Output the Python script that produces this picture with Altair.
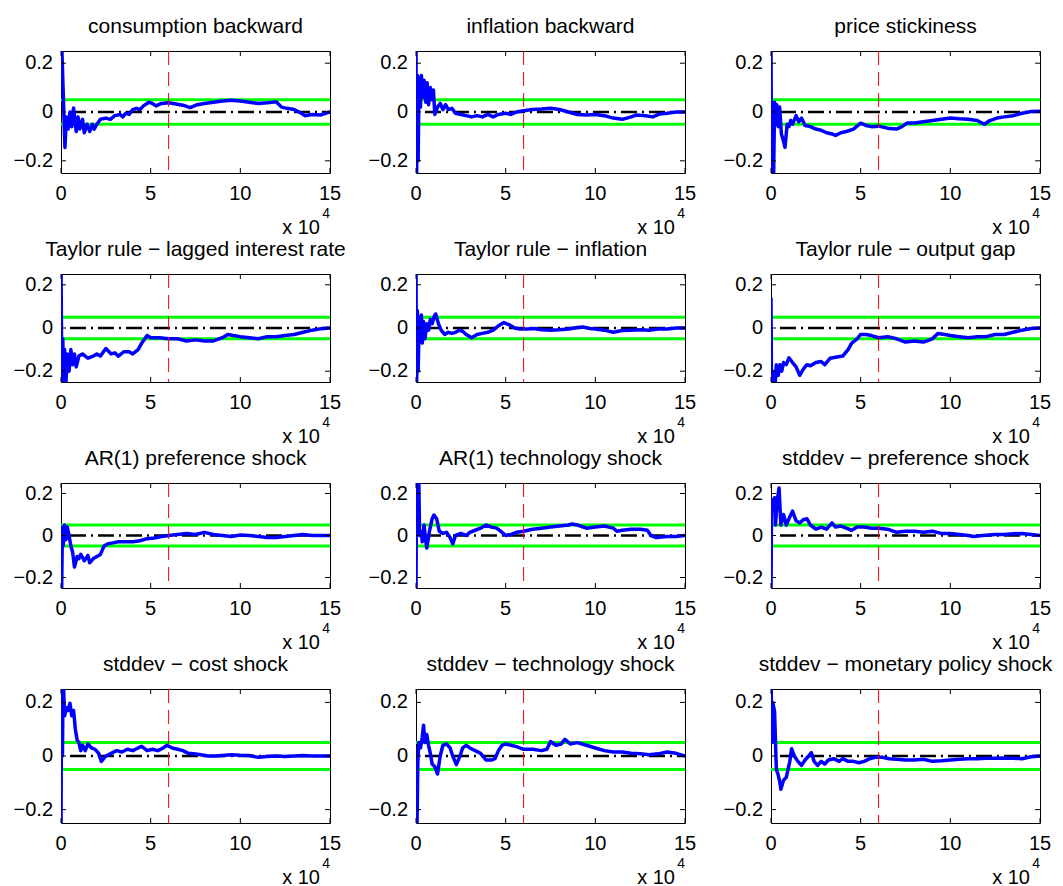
import altair as alt
import pandas as pd

FONT = "Liberation Sans"

TITLES = [
    "consumption backward", "inflation backward", "price stickiness",
    "Taylor rule \u2212 lagged interest rate", "Taylor rule \u2212 inflation", "Taylor rule \u2212 output gap",
    "AR(1) preference shock", "AR(1) technology shock", "stddev \u2212 preference shock",
    "stddev \u2212 cost shock", "stddev \u2212 technology shock", "stddev \u2212 monetary policy shock",
]

# (x in units of 10^4, value)
CONSUMPTION_BACKWARD = [(0, 0.3), (0.05, 0.25), (0.22, -0.145), (0.3, -0.02), (0.4, -0.07), (0.5, 0.0), (0.6, -0.06), (0.7, 0.016), (0.85, -0.08), (0.95, -0.02), (1.05, -0.07), (1.2, -0.03), (1.3, -0.085), (1.45, -0.05), (1.6, -0.08), (1.75, -0.05), (1.85, -0.07), (2.0, -0.05), (2.2, -0.03), (2.5, -0.025), (2.75, -0.03), (3.0, -0.015), (3.3, -0.01), (3.45, -0.02), (3.6, -0.005), (3.8, -0.01), (4.0, 0.01), (4.2, 0.015), (4.4, 0.01), (4.6, 0.025), (4.9, 0.04), (5.1, 0.035), (5.3, 0.025), (5.6, 0.035), (6.0, 0.038), (6.4, 0.033), (6.8, 0.028), (7.2, 0.018), (7.6, 0.03), (8.0, 0.035), (8.5, 0.04), (9.0, 0.045), (9.5, 0.048), (10.0, 0.045), (10.5, 0.04), (11.0, 0.035), (11.5, 0.038), (12.0, 0.042), (12.3, 0.02), (12.6, 0.015), (13.0, 0.01), (13.4, -0.005), (13.6, -0.015), (14.0, -0.01), (14.5, -0.012), (15.0, 0.0)]
INFLATION_BACKWARD = [(0, 0.25), (0.03, -0.3), (0.08, 0.15), (0.12, -0.2), (0.17, 0.14), (0.25, 0.02), (0.3, 0.15), (0.38, 0.06), (0.45, 0.13), (0.55, 0.04), (0.62, 0.12), (0.7, 0.03), (0.8, 0.1), (0.9, 0.05), (0.97, 0.09), (1.05, -0.01), (1.2, 0.02), (1.35, 0.035), (1.5, 0.01), (1.65, 0.03), (1.8, 0.01), (2.0, 0.015), (2.2, -0.005), (2.5, -0.01), (2.8, -0.015), (3.1, -0.02), (3.4, -0.015), (3.7, -0.02), (4.0, -0.01), (4.3, -0.02), (4.6, -0.01), (5.0, -0.005), (5.3, -0.01), (5.6, 0.0), (6.0, 0.005), (6.5, 0.01), (7.0, 0.012), (7.5, 0.015), (8.0, 0.01), (8.5, 0.0), (9.0, -0.01), (9.5, -0.012), (10.0, -0.01), (10.5, -0.015), (11.0, -0.025), (11.5, -0.03), (12.0, -0.02), (12.3, -0.012), (12.8, -0.015), (13.2, -0.02), (13.6, -0.008), (14.0, -0.005), (14.5, 0.0), (15.0, 0.0)]
PRICE_STICKINESS = [(0, 0.3), (0.03, -0.3), (0.1, 0.0), (0.14, -0.3), (0.2, 0.04), (0.27, -0.05), (0.32, 0.03), (0.4, -0.06), (0.48, 0.02), (0.58, -0.09), (0.7, -0.12), (0.78, -0.145), (0.9, -0.05), (1.0, -0.06), (1.1, -0.035), (1.2, -0.05), (1.4, -0.015), (1.55, -0.04), (1.7, -0.025), (1.9, -0.055), (2.2, -0.06), (2.5, -0.07), (2.8, -0.075), (3.1, -0.085), (3.4, -0.09), (3.6, -0.096), (3.9, -0.085), (4.2, -0.08), (4.6, -0.07), (5.0, -0.046), (5.3, -0.055), (5.6, -0.06), (6.0, -0.058), (6.3, -0.063), (6.6, -0.068), (7.0, -0.07), (7.3, -0.06), (7.6, -0.045), (8.0, -0.045), (8.5, -0.04), (9.0, -0.035), (9.5, -0.03), (10.0, -0.025), (10.5, -0.028), (11.0, -0.03), (11.5, -0.035), (11.9, -0.05), (12.2, -0.035), (12.6, -0.025), (13.0, -0.02), (13.5, -0.015), (14.0, -0.005), (14.5, 0.002), (15.0, 0.003)]
TAYLOR_LAGGED = [(0, 0.3), (0.05, -0.3), (0.1, -0.05), (0.15, -0.22), (0.2, -0.1), (0.25, -0.3), (0.35, -0.12), (0.45, -0.2), (0.55, -0.1), (0.65, -0.17), (0.75, -0.12), (0.85, -0.18), (1.0, -0.13), (1.2, -0.12), (1.5, -0.14), (1.8, -0.13), (2.0, -0.12), (2.2, -0.13), (2.5, -0.095), (2.8, -0.12), (3.0, -0.115), (3.2, -0.13), (3.5, -0.11), (3.8, -0.11), (4.0, -0.12), (4.3, -0.1), (4.5, -0.07), (4.8, -0.035), (5.0, -0.045), (5.5, -0.045), (6.0, -0.05), (6.5, -0.05), (7.0, -0.06), (7.5, -0.055), (8.0, -0.06), (8.5, -0.06), (9.0, -0.045), (9.3, -0.03), (9.6, -0.035), (10.0, -0.04), (10.5, -0.045), (11.0, -0.05), (11.5, -0.04), (12.0, -0.04), (12.5, -0.035), (13.0, -0.03), (13.5, -0.02), (14.0, -0.01), (14.5, -0.003), (15.0, 0.0)]
TAYLOR_INFLATION = [(0, 0.3), (0.03, -0.3), (0.08, 0.08), (0.12, -0.2), (0.18, 0.05), (0.22, -0.03), (0.3, 0.06), (0.35, -0.07), (0.42, 0.03), (0.5, -0.05), (0.6, 0.02), (0.7, -0.01), (0.8, 0.04), (0.9, 0.02), (1.0, 0.05), (1.1, 0.065), (1.25, 0.02), (1.4, -0.01), (1.6, -0.03), (1.8, -0.02), (2.0, -0.025), (2.2, -0.02), (2.4, -0.01), (2.6, -0.015), (2.8, -0.03), (3.1, -0.045), (3.4, -0.03), (3.7, -0.025), (4.0, -0.02), (4.3, -0.01), (4.6, 0.01), (4.9, 0.025), (5.2, 0.015), (5.5, 0.0), (5.8, -0.005), (6.2, -0.005), (6.6, -0.002), (7.0, -0.008), (7.5, -0.01), (8.0, -0.008), (8.5, -0.005), (9.0, 0.002), (9.3, 0.005), (9.7, -0.002), (10.0, -0.005), (10.5, -0.01), (11.0, -0.02), (11.5, -0.012), (12.0, -0.01), (12.5, -0.008), (13.0, -0.01), (13.5, -0.005), (14.0, -0.005), (14.5, 0.0), (15.0, 0.0)]
TAYLOR_OUTPUT_GAP = [(0, 0.14), (0.03, -0.3), (0.1, -0.2), (0.2, -0.3), (0.3, -0.17), (0.4, -0.22), (0.5, -0.17), (0.6, -0.2), (0.7, -0.16), (0.85, -0.17), (1.0, -0.138), (1.2, -0.16), (1.4, -0.18), (1.6, -0.219), (1.8, -0.19), (2.0, -0.17), (2.2, -0.175), (2.5, -0.16), (2.8, -0.155), (3.0, -0.17), (3.3, -0.14), (3.6, -0.135), (4.0, -0.13), (4.3, -0.1), (4.5, -0.07), (4.8, -0.05), (5.0, -0.03), (5.3, -0.03), (5.6, -0.035), (6.0, -0.045), (6.5, -0.04), (7.0, -0.05), (7.5, -0.065), (8.0, -0.06), (8.5, -0.065), (9.0, -0.05), (9.3, -0.025), (9.7, -0.03), (10.0, -0.035), (10.5, -0.04), (11.0, -0.045), (11.5, -0.04), (12.0, -0.04), (12.5, -0.03), (13.0, -0.03), (13.5, -0.02), (14.0, -0.01), (14.5, -0.002), (15.0, 0.0)]
AR1_PREFERENCE = [(0, 0.03), (0.03, -0.3), (0.08, 0.04), (0.12, -0.05), (0.2, 0.05), (0.28, -0.02), (0.35, 0.04), (0.45, 0.0), (0.55, -0.05), (0.65, -0.08), (0.75, -0.15), (0.9, -0.1), (1.0, -0.11), (1.1, -0.09), (1.3, -0.12), (1.5, -0.095), (1.6, -0.13), (1.8, -0.11), (2.0, -0.1), (2.2, -0.09), (2.4, -0.05), (2.6, -0.04), (2.9, -0.035), (3.2, -0.03), (3.6, -0.03), (4.0, -0.03), (4.4, -0.025), (4.8, -0.015), (5.2, -0.012), (5.6, -0.005), (6.0, 0.0), (6.5, 0.005), (7.0, 0.01), (7.5, 0.005), (8.0, 0.015), (8.5, 0.005), (9.0, 0.0), (9.5, -0.005), (10.0, 0.002), (10.5, 0.0), (11.0, -0.005), (11.5, -0.01), (12.0, -0.01), (12.5, -0.005), (13.0, 0.0), (13.5, 0.005), (14.0, 0.0), (14.5, 0.0), (15.0, 0.0)]
AR1_TECHNOLOGY = [(0, -0.3), (0.03, 0.3), (0.1, 0.2), (0.15, 0.3), (0.2, 0.0), (0.3, 0.02), (0.35, -0.03), (0.45, 0.05), (0.55, -0.03), (0.6, -0.06), (0.75, 0.02), (0.9, 0.08), (1.0, 0.097), (1.15, 0.08), (1.3, 0.02), (1.5, 0.01), (1.7, 0.015), (1.9, -0.01), (2.05, -0.04), (2.2, 0.0), (2.5, 0.01), (2.8, 0.0), (3.0, 0.015), (3.3, 0.025), (3.6, 0.035), (3.9, 0.05), (4.2, 0.04), (4.5, 0.035), (4.8, 0.015), (5.0, 0.0), (5.3, 0.005), (5.6, 0.015), (6.0, 0.02), (6.5, 0.03), (7.0, 0.035), (7.5, 0.04), (8.0, 0.045), (8.5, 0.05), (8.7, 0.055), (9.0, 0.05), (9.5, 0.035), (10.0, 0.04), (10.5, 0.045), (11.0, 0.035), (11.2, 0.02), (11.5, 0.025), (12.0, 0.03), (12.5, 0.03), (12.9, 0.025), (13.1, 0.0), (13.4, -0.01), (14.0, -0.005), (14.5, -0.005), (15.0, 0.0)]
STD_PREFERENCE = [(0, -0.3), (0.03, 0.17), (0.1, 0.15), (0.2, 0.18), (0.25, 0.05), (0.35, 0.17), (0.45, 0.226), (0.55, 0.05), (0.7, 0.1), (0.85, 0.05), (1.0, 0.08), (1.2, 0.116), (1.4, 0.07), (1.6, 0.06), (1.8, 0.075), (2.0, 0.08), (2.2, 0.05), (2.5, 0.03), (2.8, 0.04), (3.1, 0.03), (3.4, 0.06), (3.6, 0.04), (3.9, 0.045), (4.2, 0.035), (4.5, 0.025), (4.8, 0.04), (5.2, 0.04), (5.6, 0.035), (6.0, 0.035), (6.5, 0.03), (7.0, 0.015), (7.5, 0.02), (8.0, 0.02), (8.5, 0.015), (9.0, 0.02), (9.5, 0.01), (10.0, 0.01), (10.5, 0.005), (11.0, 0.0), (11.3, -0.005), (11.8, 0.0), (12.5, 0.005), (13.0, 0.005), (13.5, 0.008), (14.0, 0.01), (14.5, 0.005), (15.0, 0.0)]
STD_COST = [(0, -0.3), (0.03, 0.3), (0.08, 0.0), (0.12, 0.3), (0.2, 0.15), (0.3, 0.18), (0.4, 0.17), (0.5, 0.197), (0.6, 0.15), (0.7, 0.17), (0.8, 0.1), (0.9, 0.06), (1.0, 0.05), (1.1, 0.02), (1.2, 0.04), (1.35, 0.02), (1.5, 0.045), (1.7, 0.03), (1.9, 0.025), (2.1, 0.01), (2.25, -0.02), (2.5, 0.0), (2.8, 0.01), (3.1, 0.02), (3.4, 0.015), (3.7, 0.025), (4.0, 0.02), (4.3, 0.03), (4.5, 0.036), (4.8, 0.02), (5.1, 0.025), (5.4, 0.02), (5.7, 0.03), (5.9, 0.04), (6.2, 0.03), (6.5, 0.025), (6.8, 0.02), (7.1, 0.01), (7.4, 0.008), (7.8, 0.005), (8.2, 0.0), (8.6, 0.0), (9.0, 0.002), (9.5, 0.005), (10.0, 0.003), (10.5, 0.002), (11.0, -0.005), (11.5, -0.002), (12.0, 0.0), (12.5, -0.002), (13.0, 0.0), (13.5, 0.002), (14.0, 0.0), (14.5, 0.0), (15.0, 0.0)]
STD_TECHNOLOGY = [(0, -0.19), (0.05, -0.3), (0.1, -0.03), (0.15, 0.05), (0.25, 0.03), (0.35, 0.07), (0.42, 0.115), (0.5, 0.05), (0.6, 0.08), (0.7, 0.04), (0.8, 0.01), (0.9, -0.03), (1.05, -0.04), (1.2, -0.067), (1.35, 0.0), (1.5, 0.04), (1.7, 0.045), (1.9, 0.03), (2.05, 0.0), (2.25, -0.032), (2.45, 0.0), (2.6, 0.03), (2.8, 0.04), (3.0, 0.03), (3.3, 0.02), (3.6, 0.01), (3.9, -0.015), (4.2, -0.015), (4.4, -0.01), (4.6, 0.02), (4.8, 0.04), (5.0, 0.045), (5.3, 0.04), (5.6, 0.035), (6.0, 0.025), (6.5, 0.025), (7.0, 0.02), (7.3, 0.025), (7.5, 0.054), (7.8, 0.04), (8.1, 0.045), (8.3, 0.062), (8.6, 0.045), (9.0, 0.05), (9.5, 0.04), (10.0, 0.03), (10.5, 0.02), (11.0, 0.015), (11.5, 0.015), (12.0, 0.01), (12.5, 0.008), (13.0, 0.005), (13.5, 0.008), (14.0, 0.015), (14.5, 0.01), (15.0, 0.0)]
STD_MONETARY = [(0, 0.3), (0.05, 0.05), (0.1, 0.2), (0.2, 0.165), (0.25, 0.05), (0.3, -0.05), (0.4, -0.07), (0.5, -0.1), (0.55, -0.124), (0.7, -0.09), (0.85, -0.08), (0.95, -0.05), (1.05, -0.02), (1.15, 0.027), (1.3, 0.0), (1.5, -0.02), (1.7, -0.035), (1.9, -0.015), (2.1, 0.0), (2.25, 0.013), (2.4, -0.02), (2.6, -0.035), (2.8, -0.02), (3.0, -0.03), (3.2, -0.015), (3.5, -0.01), (3.8, -0.02), (4.0, -0.01), (4.3, -0.02), (4.6, -0.02), (4.9, -0.025), (5.2, -0.02), (5.5, -0.01), (5.8, -0.005), (6.2, -0.005), (6.6, -0.01), (7.0, -0.012), (7.5, -0.015), (8.0, -0.015), (8.5, -0.012), (9.0, -0.02), (9.5, -0.018), (10.0, -0.015), (10.5, -0.012), (11.0, -0.01), (11.5, -0.01), (12.0, -0.008), (12.5, -0.008), (13.0, -0.007), (13.5, -0.008), (14.0, -0.01), (14.5, -0.003), (15.0, 0.0)]

SERIES = [CONSUMPTION_BACKWARD, INFLATION_BACKWARD, PRICE_STICKINESS,
          TAYLOR_LAGGED, TAYLOR_INFLATION, TAYLOR_OUTPUT_GAP,
          AR1_PREFERENCE, AR1_TECHNOLOGY, STD_PREFERENCE,
          STD_COST, STD_TECHNOLOGY, STD_MONETARY]

X_DOMAIN = [0, 15]
Y_DOMAIN = [-0.25, 0.25]
X_TICKS = [0, 5, 10, 15]
Y_TICKS = [-0.2, 0, 0.2]
BAND_LEVELS = [-0.05, 0.05]
ZERO_START = [0.5]
ZERO_END = [15]
ZERO_LEVEL = [0]
SPLIT_X = [6]
EXP_BASE = ["x 10"]
EXP_POW = ["4"]

PANEL_W = 269
ROW_H = [122, 108, 105, 134]
TICK_LEN = 5


def panel(title, pts, h):
    w = PANEL_W
    xs = alt.Scale(domain=X_DOMAIN, nice=False, zero=False)
    ys = alt.Scale(domain=Y_DOMAIN, nice=False, zero=False)
    df = pd.DataFrame(pts, columns=["x", "y"])
    xt = pd.DataFrame({"v": X_TICKS})
    yt = pd.DataFrame({"v": Y_TICKS})

    band = alt.Chart(pd.DataFrame({"y": BAND_LEVELS})).mark_rule(
        color="#00ff00", strokeWidth=3).encode(
        y=alt.Y("y:Q", scale=ys, axis=None))
    zero = alt.Chart(pd.DataFrame({"x": ZERO_START, "x2": ZERO_END, "y": ZERO_LEVEL})).mark_rule(
        color="black", strokeWidth=2.5, strokeDash=[16, 5, 2, 5]).encode(
        x=alt.X("x:Q", scale=xs, axis=None), x2="x2:Q",
        y=alt.Y("y:Q", scale=ys, axis=None))
    line = alt.Chart(df).mark_line(color="#0000ff", strokeWidth=3.5, clip=True,
                                   strokeJoin="round").encode(
        x=alt.X("x:Q", scale=xs, axis=None),
        y=alt.Y("y:Q", scale=ys, axis=None))
    red = alt.Chart(pd.DataFrame({"x": SPLIT_X})).mark_rule(
        color="#ff0000", strokeWidth=1, strokeDash=[14, 7]).encode(
        x=alt.X("x:Q", scale=xs, axis=None))
    tick_top = alt.Chart(xt).mark_rule(color="black", strokeWidth=1).encode(
        x=alt.X("v:Q", scale=xs, axis=None), y=alt.value(0), y2=alt.value(TICK_LEN))
    tick_bot = alt.Chart(xt).mark_rule(color="black", strokeWidth=1).encode(
        x=alt.X("v:Q", scale=xs, axis=None), y=alt.value(h - TICK_LEN), y2=alt.value(h))
    tick_l = alt.Chart(yt).mark_rule(color="black", strokeWidth=1).encode(
        y=alt.Y("v:Q", scale=ys, axis=None), x=alt.value(0), x2=alt.value(TICK_LEN))
    tick_r = alt.Chart(yt).mark_rule(color="black", strokeWidth=1).encode(
        y=alt.Y("v:Q", scale=ys, axis=None), x=alt.value(w - TICK_LEN), x2=alt.value(w))
    xlab = alt.Chart(xt).mark_text(font=FONT, fontSize=20, align="center", baseline="top",
                                   color="black").encode(
        x=alt.X("v:Q", scale=xs, axis=None), y=alt.value(h + 11),
        text=alt.Text("v:Q", format="d"))
    ylab = alt.Chart(yt).mark_text(font=FONT, fontSize=20, align="right", baseline="middle",
                                   color="black").encode(
        y=alt.Y("v:Q", scale=ys, axis=None), x=alt.value(-8),
        text=alt.Text("v:Q", format="~g"))
    ttl = alt.Chart(pd.DataFrame({"t": [title]})).mark_text(
        font=FONT, fontSize=21, align="center", baseline="alphabetic", color="black").encode(
        text="t:N", x=alt.value(w / 2), y=alt.value(-18))
    exp_base = alt.Chart(pd.DataFrame({"t": EXP_BASE})).mark_text(
        font=FONT, fontSize=20, align="right", baseline="alphabetic", color="black").encode(
        text="t:N", x=alt.value(w - 10), y=alt.value(h + 61))
    exp_pow = alt.Chart(pd.DataFrame({"t": EXP_POW})).mark_text(
        font=FONT, fontSize=14, align="right", baseline="alphabetic", color="black").encode(
        text="t:N", x=alt.value(w), y=alt.value(h + 45))

    return alt.layer(band, zero, line, red, tick_top, tick_bot, tick_l, tick_r,
                     xlab, ylab, ttl, exp_base, exp_pow).properties(width=w, height=h)


panels = []
for r in range(4):
    for c in range(3):
        panels.append(panel(TITLES[3 * r + c], SERIES[3 * r + c], ROW_H[r]))

chart = alt.concat(*panels, columns=3, spacing=alt.RowColnumber(row=101, column=86),
                   bounds="flush", align="each").properties(
    padding={"left": 5, "top": 7, "right": 0, "bottom": 0}
).configure_view(
    stroke="black", strokeWidth=1
)

chart.save("out.html", embed_options={"renderer": "svg", "actions": False})
